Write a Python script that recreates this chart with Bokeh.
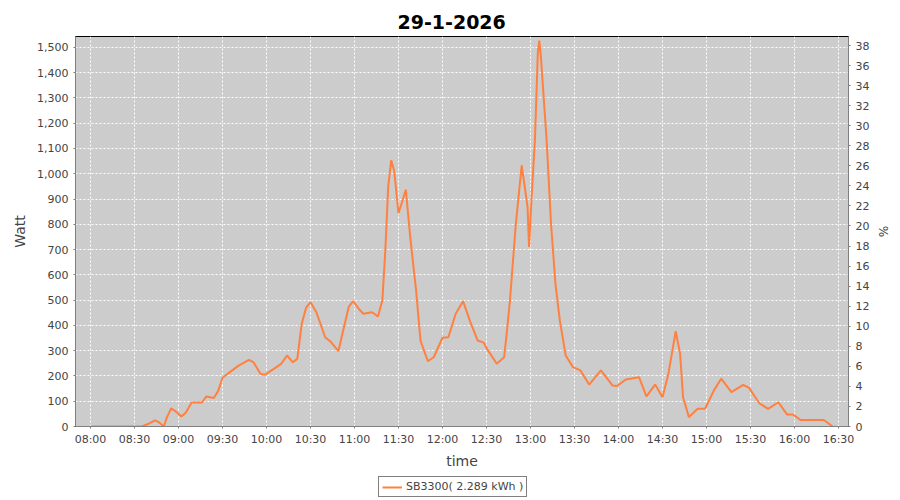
import pandas as pd
from bokeh.plotting import figure
from bokeh.layouts import column
from bokeh.models import (Range1d, LinearAxis, FixedTicker, DatetimeTickFormatter,
                          NumeralTickFormatter, Legend, LegendItem, ColumnDataSource)
from bokeh.embed import file_html
from bokeh.resources import INLINE

DAY = "2026-01-29"
times = ["08:00", "08:35", "08:40", "08:44", "08:47", "08:50", "08:52", "08:55", "08:58", "09:02",
         "09:05", "09:09", "09:16", "09:19", "09:24", "09:27", "09:30", "09:35", "09:41", "09:48",
         "09:51", "09:56", "09:59", "10:05", "10:10", "10:14", "10:18", "10:21", "10:24", "10:27",
         "10:30", "10:34", "10:40", "10:44", "10:49", "10:52", "10:56", "10:59", "11:03", "11:06",
         "11:12", "11:16", "11:19", "11:21", "11:23", "11:25", "11:27", "11:30", "11:32", "11:35",
         "11:38", "11:42", "11:45", "11:50", "11:54", "12:00", "12:04", "12:09", "12:14", "12:19",
         "12:24", "12:28", "12:31", "12:37", "12:42", "12:44", "12:46", "12:50", "12:54", "12:58",
         "12:59", "13:01", "13:03", "13:05", "13:06", "13:07", "13:11", "13:14", "13:17", "13:20",
         "13:24", "13:29", "13:34", "13:40", "13:48", "13:56", "13:59", "14:05", "14:14", "14:19",
         "14:25", "14:30", "14:34", "14:39", "14:42", "14:44", "14:48", "14:54", "14:59", "15:05",
         "15:10", "15:17", "15:25", "15:29", "15:36", "15:42", "15:49", "15:55", "15:59", "16:04",
         "16:20", "16:26"]
watts = [0, 0, 12, 24, 15, 0, 35, 72, 60, 40,
         55, 95, 95, 119, 113, 140, 193, 215, 241, 264,
         255, 208, 205, 228, 248, 281, 254, 268, 406, 470,
         492, 452, 353, 334, 298, 373, 472, 496, 465, 446,
         452, 435, 500, 696, 950, 1053, 1013, 844, 880, 937,
         749, 538, 340, 258, 274, 351, 353, 446, 496, 413,
         340, 332, 301, 248, 274, 380, 499, 802, 1033, 868,
         710, 934, 1132, 1480, 1527, 1470, 1132, 802, 565, 419,
         281, 235, 222, 166, 222, 162, 160, 186, 195, 119,
         166, 116, 208, 377, 288, 116, 37, 70, 70, 142,
         189, 136, 165, 153, 92, 70, 96, 47, 47, 26,
         26, 0]
tick_labels = ["08:00", "08:30", "09:00", "09:30", "10:00", "10:30", "11:00", "11:30", "12:00",
               "12:30", "13:00", "13:30", "14:00", "14:30", "15:00", "15:30", "16:00", "16:30"]
legend_label = "SB3300( 2.289 kWh )"
title_text = "29-1-2026"

def ts(hm):
    return pd.Timestamp(f"{DAY} {hm}")

def ms(t):
    return t.value // 10**6

src = ColumnDataSource(dict(t=[ts(h) for h in times], w=watts))

x_start = ts("07:49:46")
x_end = ts("16:36:49")

LINE_COLOR = "#ff8040"

p = figure(frame_width=773, frame_height=390, x_axis_type="datetime", output_backend="svg",
           toolbar_location=None, x_range=Range1d(x_start, x_end), y_range=Range1d(0, 1543),
           min_border_left=75, min_border_right=36, min_border_top=36, min_border_bottom=10,
           background_fill_color="#cccccc", border_fill_color="white")

p.title.text = title_text
p.title.align = "left"
p.title.offset = 322
p.title.vertical_align = "top"
p.title.text_font = "DejaVu Sans"
p.title.text_font_size = "19px"
p.title.text_font_style = "bold"
p.title.text_color = "black"
p.title.standoff = 12

p.outline_line_color = "black"
p.outline_line_width = 1
p.outline_line_alpha = 1

p.extra_y_ranges = {"pct": Range1d(0, 38.9)}
right = LinearAxis(y_range_name="pct", ticker=FixedTicker(ticks=list(range(0, 40, 2))),
                   axis_label="%")
p.add_layout(right, "right")

p.xaxis.ticker = FixedTicker(ticks=[ms(ts(h)) for h in tick_labels])
fmt = "%H:%M"
p.xaxis.formatter = DatetimeTickFormatter(hours=fmt, hourmin=fmt, minutes=fmt, minsec=fmt,
                                          seconds=fmt, days=fmt)
p.xaxis.axis_label = "time"
p.yaxis[0].ticker = FixedTicker(ticks=list(range(0, 1501, 100)))
p.yaxis[0].formatter = NumeralTickFormatter(format="0,0")
p.yaxis[0].axis_label = "Watt"

for ax in p.axis:
    ax.axis_line_color = "#808080"
    ax.major_tick_line_color = "#808080"
    ax.major_tick_out = 2
    ax.major_tick_in = 0
    ax.minor_tick_out = 0
    ax.minor_tick_in = 0
    ax.major_label_text_font = "DejaVu Sans"
    ax.major_label_text_font_size = "11px"
    ax.major_label_text_color = "#444444"
    ax.axis_label_text_font = "DejaVu Sans"
    ax.axis_label_text_font_size = "14px"
    ax.axis_label_text_font_style = "normal"
    ax.axis_label_text_color = "#444444"
    ax.major_label_standoff = 5
    ax.axis_label_standoff = 6

p.xaxis.major_label_standoff = 4
p.xaxis.axis_label_standoff = 4
right.axis_label_text_font_size = "12px"
right.axis_label_standoff = 4

for g in (p.xgrid[0], p.ygrid[0]):
    g.grid_line_color = "white"
    g.grid_line_dash = "2 2"
    g.grid_line_width = 1
p.xgrid.ticker = p.xaxis[0].ticker
p.ygrid.ticker = p.yaxis[0].ticker

r = p.line("t", "w", source=src, line_color=LINE_COLOR, line_width=2)

# legend strip below the chart (its own line renderer lies outside its ranges, so draws nothing)
leg_fig = figure(width=884, height=32, output_backend="svg", toolbar_location=None,
                 x_range=Range1d(0, 1), y_range=Range1d(0, 1), min_border=0,
                 x_axis_location=None, y_axis_location=None,
                 background_fill_color="white", border_fill_color="white")
leg_fig.grid.visible = False
leg_fig.outline_line_color = None
r2 = leg_fig.line("t", "w", source=src, line_color=LINE_COLOR, line_width=2)

legend = Legend(items=[LegendItem(label=legend_label, renderers=[r2])], location=(303, 6),
                orientation="horizontal",
                border_line_color="black", border_line_width=1, background_fill_color="white",
                background_fill_alpha=1, label_text_font="DejaVu Sans", label_text_font_size="11px",
                label_text_color="#444444", glyph_width=20, glyph_height=12, padding=3, margin=0,
                spacing=0, label_standoff=4, label_height=12)
leg_fig.add_layout(legend)

layout = column(p, leg_fig, spacing=0)

open("out.html", "w").write(file_html(layout, INLINE))
